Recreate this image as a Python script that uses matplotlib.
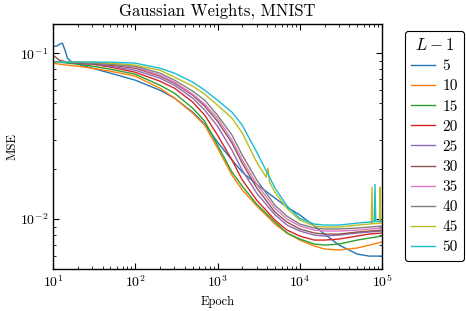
import matplotlib
matplotlib.use("Agg")
import matplotlib.pyplot as plt
import numpy as np

plt.rcParams['font.family'] = ['cmr10', 'DejaVu Serif']
plt.rcParams['mathtext.fontset'] = 'cm'
plt.rcParams['axes.formatter.use_mathtext'] = True
plt.rcParams['axes.unicode_minus'] = False

epochs = [10, 12, 15, 20, 30, 50, 100, 200, 300, 500, 700, 1000, 1500, 2000,
          3000, 5000, 7000, 10000, 15000, 20000, 30000, 50000, 70000, 100000]

# L-1 = 5
epochs_5 = [10, 11, 12, 13, 14, 15, 17, 20, 30, 50, 100, 200, 300, 500, 700, 1000,
            1500, 2000, 3000, 5000, 7000, 10000, 15000, 20000, 30000, 50000, 70000, 100000]
mse_5 = [0.1102, 0.1102, 0.1133, 0.1149, 0.1042, 0.0933, 0.0883, 0.0859, 0.0812, 0.0758,
         0.0688, 0.0598, 0.0536, 0.0441, 0.0373, 0.0291, 0.0227, 0.0192, 0.0162, 0.01338,
         0.0118, 0.0106, 0.00908, 0.00812, 0.00697, 0.00615, 0.00598, 0.00598]

mse_10 = [0.0871, 0.0859, 0.0847, 0.0835, 0.0812, 0.0779, 0.0727, 0.0615, 0.0536, 0.0435,
          0.0368, 0.0268, 0.0184, 0.0150, 0.0120, 0.00933, 0.00824, 0.00747, 0.00688,
          0.00660, 0.00651, 0.00669, 0.00697, 0.00727]

mse_15 = [0.0883, 0.0883, 0.0871, 0.0859, 0.0835, 0.0801, 0.0747, 0.0641, 0.0574, 0.0466,
          0.0389, 0.0279, 0.0192, 0.0158, 0.0123, 0.00959, 0.00824, 0.00758, 0.00707,
          0.00697, 0.00707, 0.00747, 0.00768, 0.00790]

mse_20 = [0.0883, 0.0883, 0.0883, 0.0871, 0.0859, 0.0824, 0.0768, 0.0678, 0.0615, 0.0507,
          0.0423, 0.0321, 0.0227, 0.0172, 0.0130, 0.00986, 0.00858, 0.00790, 0.00747,
          0.00747, 0.00758, 0.00790, 0.00812, 0.00824]

mse_25 = [0.0883, 0.0883, 0.0883, 0.0871, 0.0859, 0.0835, 0.0790, 0.0707, 0.0641, 0.0536,
          0.0454, 0.0363, 0.0260, 0.0197, 0.0143, 0.0106, 0.00920, 0.00847, 0.00801,
          0.00790, 0.00801, 0.00824, 0.00835, 0.00847]

mse_30 = [0.0973, 0.0907, 0.0883, 0.0871, 0.0859, 0.0847, 0.0812, 0.0727, 0.0660, 0.0558,
          0.0479, 0.0389, 0.0287, 0.0217, 0.0154, 0.0110, 0.00959, 0.00871, 0.00824,
          0.00812, 0.00812, 0.00835, 0.00847, 0.00858]

mse_35 = [0.0883, 0.0883, 0.0883, 0.0883, 0.0871, 0.0859, 0.0824, 0.0737, 0.0669, 0.0566,
          0.0493, 0.0406, 0.0299, 0.0227, 0.0162, 0.0116, 0.0100, 0.00908, 0.00858,
          0.00847, 0.00847, 0.00858, 0.00871, 0.00883]

mse_40 = [0.0883, 0.0883, 0.0883, 0.0883, 0.0871, 0.0859, 0.0835, 0.0758, 0.0688, 0.0590,
          0.0521, 0.0423, 0.0321, 0.0243, 0.0172, 0.0121, 0.0104, 0.00933, 0.00883,
          0.00871, 0.00871, 0.00883, 0.00895, 0.00908]

epochs_45 = [10, 12, 15, 20, 30, 50, 100, 200, 300, 500, 700, 1000, 1500, 2000, 3000,
             3900, 4100, 4300, 5000, 7000, 10000, 15000, 20000, 30000, 50000, 70000,
             74000, 75500, 77000, 93000, 94600, 96000, 100000]
mse_45 = [0.0883, 0.0883, 0.0883, 0.0883, 0.0883, 0.0871, 0.0847, 0.0790, 0.0717, 0.0633,
          0.0566, 0.0486, 0.0406, 0.0330, 0.0220, 0.0179, 0.0203, 0.0167, 0.0145, 0.0116,
          0.00986, 0.00908, 0.00895, 0.00895, 0.00920, 0.00933, 0.00935, 0.0156, 0.00937,
          0.00944, 0.0156, 0.00945, 0.00946]

epochs_50 = [10, 12, 15, 20, 30, 50, 100, 200, 300, 500, 700, 1000, 1500, 2000, 3000,
             5000, 7000, 10000, 15000, 20000, 30000, 50000, 70000, 80500, 82200, 84000, 100000]
mse_50 = [0.0883, 0.0883, 0.0883, 0.0883, 0.0883, 0.0883, 0.0871, 0.0812, 0.0758, 0.0669,
          0.0598, 0.0521, 0.0441, 0.0368, 0.0253, 0.0154, 0.0120, 0.0101, 0.00933, 0.00920,
          0.00920, 0.00946, 0.00959, 0.00965, 0.0162, 0.00966, 0.00973]

labels = ['5', '10', '15', '20', '25', '30', '35', '40', '45', '50']
xs = [epochs_5, epochs, epochs, epochs, epochs, epochs, epochs, epochs, epochs_45, epochs_50]
ys = [mse_5, mse_10, mse_15, mse_20, mse_25, mse_30, mse_35, mse_40, mse_45, mse_50]
colors = plt.rcParams['axes.prop_cycle'].by_key()['color']

fig = plt.figure(figsize=(4.66, 3.11), dpi=100)
ax = fig.add_axes([53/466, 1-269/311, (382-53)/466, (269-24)/311])

for x, y, lab, c in zip(xs, ys, labels, colors):
    ax.plot(x, y, color=c, lw=1.0, label=lab)

ax.set_xscale('log')
ax.set_yscale('log')
ax.set_xlim(10, 1e5)
ax.set_ylim(0.005, 0.15)
ax.set_xlabel('Epoch', fontsize=9)
ax.set_ylabel('MSE', fontsize=9, labelpad=1)
ax.set_title('Gaussian Weights, MNIST', fontsize=12)
ax.tick_params(which='both', direction='in', top=True, right=True, labelsize=10)
ax.tick_params(which='major', length=4, width=0.8)
ax.tick_params(which='minor', length=2, width=0.6)
for s in ax.spines.values():
    s.set_linewidth(1.0)

leg = ax.legend(title='$L-1$', loc='upper left', bbox_to_anchor=(405/466, 1-31/311),
                bbox_transform=fig.transFigure, fontsize=11, title_fontsize=12,
                frameon=True, fancybox=True, edgecolor='black', framealpha=1,
                handlelength=1.55, labelspacing=0.42, borderpad=0.4, handletextpad=0.5,
                borderaxespad=0)
leg.get_frame().set_linewidth(0.8)

fig.savefig('out.png', dpi=100)
